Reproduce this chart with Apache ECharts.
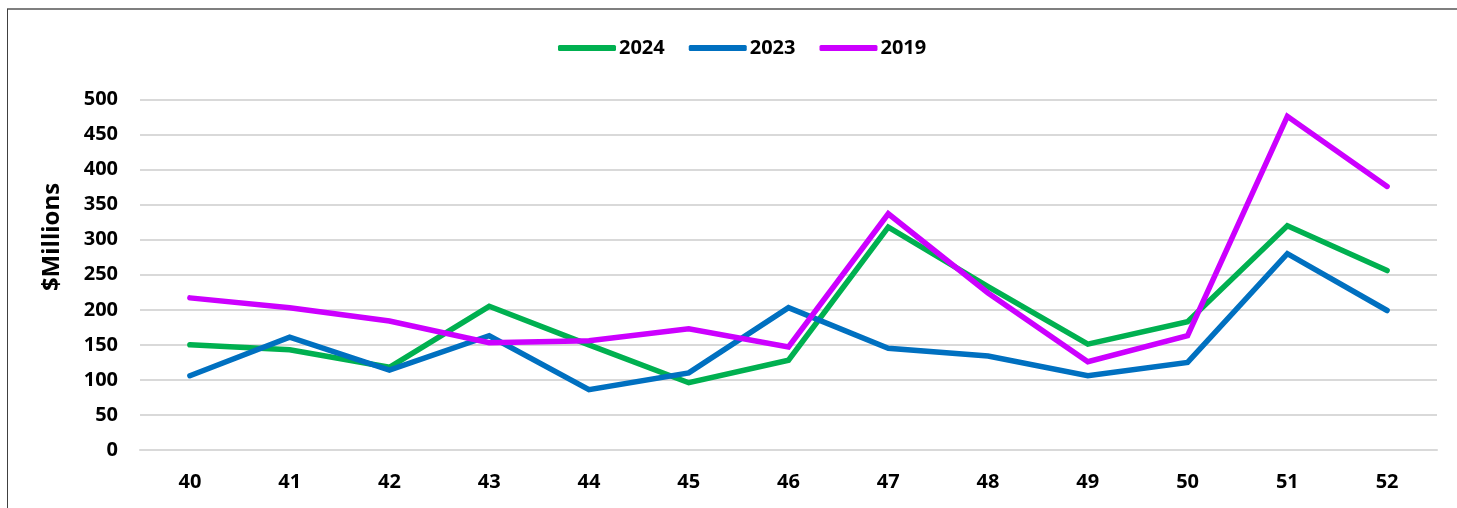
<!DOCTYPE html>
<html>
<head>
<meta charset="utf-8">
<script src="https://cdn.jsdelivr.net/npm/echarts@6/dist/echarts.min.js"></script>
<style>
html,body{margin:0;padding:0;background:#fff;}
#c{width:1457px;height:508px;}
</style>
</head>
<body>
<div id="c"></div>
<script>
const categories = ['40','41','42','43','44','45','46','47','48','49','50','51','52'];
const s2024 = [150,143,118,205,150,96,128,318,233,151,183,320,256];
const s2023 = [106,161,114,163,86,110,203,145,134,106,125,280,199];
const s2019 = [217,203,184,153,156,173,147,337,224,126,163,476,376];
const yTicks = {min:0, max:500, interval:50};
const yName = '$Millions';

const FONT = '"Open Sans", sans-serif';
const chart = echarts.init(document.getElementById('c'));
function line(name, data, color){
  return {name, type:'line', data, symbol:'none', smooth:false,
    lineStyle:{width:5.5, color, cap:'round', join:'miter'}, itemStyle:{color}};
}
chart.setOption({
  animation:false,
  backgroundColor:'#fff',
  graphic:[
    {type:'line', shape:{x1:7, y1:9, x2:1457, y2:9}, style:{stroke:'#7f7f7f', lineWidth:2}},
    {type:'line', shape:{x1:7.5, y1:9, x2:7.5, y2:508}, style:{stroke:'#404040', lineWidth:1}},
    {type:'text', x:52, y:237, rotation:Math.PI/2,
      style:{text:yName, font:'bold 24px "Open Sans", sans-serif', fill:'#000', align:'center', verticalAlign:'middle'}}
  ],
  legend:{
    left:553, top:33, icon:'roundRect', itemWidth:58, itemHeight:6, itemGap:24,
    textStyle:{fontFamily:FONT, fontWeight:'bold', fontSize:20, color:'#000', padding:[0,0,0,-2]},
    data:['2024','2023','2019']
  },
  grid:{left:140, right:20, top:99.5, bottom:58, containLabel:false},
  xAxis:{
    type:'category', data:categories, boundaryGap:true,
    axisLine:{show:true, lineStyle:{color:'#d9d9d9', width:2}},
    axisTick:{show:false},
    axisLabel:{fontFamily:FONT, fontWeight:'bold', fontSize:20, color:'#000', margin:22}
  },
  yAxis:{
    type:'value', min:yTicks.min, max:yTicks.max, interval:yTicks.interval,
    axisLine:{show:false}, axisTick:{show:false},
    splitLine:{lineStyle:{color:'#d9d9d9', width:2}},
    axisLabel:{fontFamily:FONT, fontWeight:'bold', fontSize:20, color:'#000', margin:22}
  },
  series:[
    line('2024', s2024, '#00B050'),
    line('2023', s2023, '#0070C0'),
    line('2019', s2019, '#CC00FF')
  ]
});
</script>
</body>
</html>
